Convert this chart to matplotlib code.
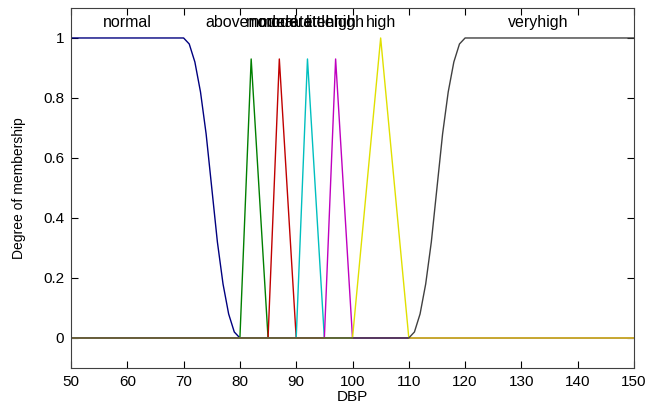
import matplotlib
matplotlib.use("Agg")
import matplotlib.pyplot as plt

plt.rcParams['font.family'] = ['Liberation Sans', 'DejaVu Sans']

# membership curves
normal_x = [50, 70, 71, 72, 73, 74, 75, 76, 77, 78, 79, 80, 150]
normal_y = [1, 1, 0.98, 0.92, 0.82, 0.68, 0.5, 0.32, 0.18, 0.08, 0.02, 0, 0]

veryhigh_x = [50, 110, 111, 112, 113, 114, 115, 116, 117, 118, 119, 120, 150]
veryhigh_y = [0, 0, 0.02, 0.08, 0.18, 0.32, 0.5, 0.68, 0.82, 0.92, 0.98, 1, 1]

tri_names = ['abovenormal', 'moderate', 'moderatehigh', 'littlehigh', 'high']
tri_left = [80, 85, 90, 95, 100]
tri_peak = [82, 87, 92, 97, 105]
tri_right = [85, 90, 95, 100, 110]
tri_height = [0.93, 0.93, 0.93, 0.93, 1.0]
tri_colors = ['#007f00', '#c00000', '#00bfbf', '#bf00bf', '#e0e000']

fig = plt.figure(figsize=(6.6, 4.03), dpi=100)
ax = fig.add_axes([0.1076, 0.0869, 0.853, 0.8933])

ax.plot(normal_x, normal_y, color='#00007f', lw=1)
for i in range(len(tri_names)):
    xs = [50, tri_left[i], tri_peak[i], tri_right[i], 150]
    ys = [0, 0, tri_height[i], 0, 0]
    ax.plot(xs, ys, color=tri_colors[i], lw=1)
ax.plot(veryhigh_x, veryhigh_y, color='#404040', lw=1)

ax.text(60, 1.053, 'normal', ha='center', va='center', fontsize=11.5)
for i in range(len(tri_names)):
    ax.text(tri_peak[i], 1.053, tri_names[i], ha='center', va='center', fontsize=11.5)
ax.text(133, 1.053, 'veryhigh', ha='center', va='center', fontsize=11.5)

ax.set_xlim(50, 150)
ax.set_ylim(-0.1, 1.1)
ax.set_xticks(range(50, 151, 10))
ax.set_yticks([0, 0.2, 0.4, 0.6, 0.8, 1])
ax.set_yticklabels(['0', '0.2', '0.4', '0.6', '0.8', '1'])
ax.tick_params(direction='in', top=True, right=True, labelsize=11, length=5, pad=5)
for s in ax.spines.values():
    s.set_color('#404040')
ax.set_xlabel('DBP', fontsize=11, labelpad=1)
ax.set_ylabel('Degree of membership', fontsize=10, labelpad=12)

fig.savefig('out.png', dpi=100)
